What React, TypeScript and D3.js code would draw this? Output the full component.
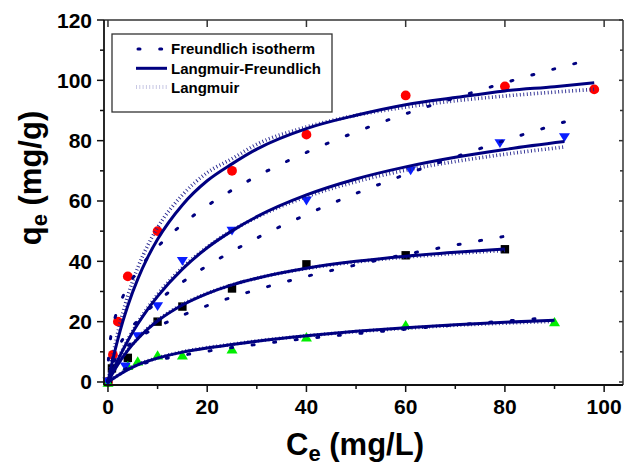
import React from "react";
import * as d3 from "d3";

// Measured adsorption data, four adsorbent series
const RED_CE = [0, 1, 2, 4, 10, 25, 40, 60, 80, 98];
const RED_QE = [0, 9, 20, 35, 50, 70, 82, 95, 98, 97];
const BLUE_CE = [0, 3.5, 6, 10, 15, 25, 40, 61, 79, 92];
const BLUE_QE = [0, 5, 15, 25, 40, 50, 60, 70, 79, 81];
const BLACK_CE = [0, 0.8, 4, 10, 15, 25, 40, 60, 80];
const BLACK_QE = [0, 4.5, 8, 20, 25, 31, 39, 42, 44];
const GREEN_CE = [0, 4, 6, 10, 15, 25, 40, 60, 90];
const GREEN_QE = [0, 5.5, 7, 9, 9, 11, 15, 19, 20];

// Fitted isotherm curves, sampled along Ce
const RED_FIT_CE = [0, 0.1, 0.25, 0.5, 1, 2, 3, 4, 6, 8, 10, 15, 20, 25, 30, 40, 50, 60, 70, 80, 90, 98];
const RED_FREUNDLICH = [0, 7.7, 11, 14.3, 18.6, 24.2, 28.3, 31.6, 36.9, 41.2, 44.8, 52.3, 58.4, 63.6, 68.2, 76.1, 82.9, 88.9, 94.2, 99.2, 103.8, 107.2];
const RED_LF = [0, 0.8, 2, 3.9, 7.6, 14.2, 20.1, 25.3, 34.1, 41.3, 47.3, 58.7, 66.7, 72.3, 77.2, 84, 88.4, 91.9, 94.3, 96.5, 97.9, 99.2];
const RED_LANGMUIR = [0, 1, 2.4, 4.65, 8.9, 16.5, 23, 28.6, 37.9, 45.2, 51.2, 62, 69.4, 74, 78.8, 84.5, 88.4, 91.1, 93.2, 94.8, 96.1, 97];

const BLUE_FIT_CE = [0, 0.1, 0.25, 0.5, 1, 2, 4, 6, 8, 10, 15, 20, 25, 30, 40, 50, 60, 70, 80, 92];
const BLUE_FREUNDLICH = [0, 2.35, 3.81, 5.5, 7.92, 11.4, 16.5, 20.4, 23.7, 26.7, 33.1, 38.5, 43.3, 47.7, 55.5, 62.5, 68.8, 74.6, 80.1, 86.2];
const BLUE_LF = [0, 0.39, 0.98, 1.93, 3.8, 7.3, 13.7, 19.2, 24.1, 28.4, 37.4, 44.5, 50.1, 54.8, 62, 67.3, 71.3, 74.5, 77.1, 79.7];
const BLUE_LANGMUIR = [0, 0.41, 1.03, 2.04, 3.95, 7.6, 14.1, 19.7, 24.6, 29, 37.9, 44.7, 50.2, 54.6, 61.4, 66.4, 70.2, 73.1, 75.5, 77.9];

const BLACK_FIT_CE = [0, 0.1, 0.25, 0.5, 1, 2, 4, 6, 8, 10, 15, 20, 25, 30, 40, 50, 60, 70, 80];
const BLACK_FREUNDLICH = [0, 2.14, 3.29, 4.54, 6.27, 8.66, 11.96, 14.5, 16.5, 18.3, 22.1, 25.3, 28.1, 30.6, 35, 38.8, 42.3, 45.4, 48.3];
const BLACK_LF = [0, 0.33, 0.81, 1.59, 3.08, 5.83, 10.5, 14.3, 17.5, 20.2, 25.5, 29.3, 32.2, 34.4, 37.7, 40, 41.7, 43, 44.1];
const BLACK_LANGMUIR = [0, 0.34, 0.84, 1.64, 3.17, 6, 10.7, 14.5, 17.8, 20.5, 25.7, 29.4, 32.2, 34.4, 37.6, 39.8, 41.4, 42.6, 43.6];

const GREEN_FIT_CE = [0, 0.1, 0.25, 0.5, 1, 2, 4, 6, 8, 10, 15, 20, 25, 30, 40, 50, 60, 70, 80, 90];
const GREEN_FREUNDLICH = [0, 0.74, 1.17, 1.65, 2.32, 3.27, 4.6, 5.62, 6.48, 7.24, 8.84, 10.2, 11.4, 12.45, 14.4, 16, 17.5, 18.9, 20.2, 21.4];
const GREEN_LF = [0, 0.11, 0.28, 0.55, 1.1, 2.15, 4.1, 5.7, 6.9, 7.9, 9.9, 11.3, 12.4, 13.5, 15.3, 16.8, 18, 19, 19.8, 20.5];
const GREEN_LANGMUIR = [0, 0.11, 0.28, 0.55, 1.1, 2.2, 4.2, 5.8, 7, 8, 10, 11.4, 12.5, 13.6, 15.3, 16.7, 17.8, 18.8, 19.5, 20.1];

const X_TICKS = [0, 20, 40, 60, 80, 100];
const X_MINOR = [10, 30, 50, 70, 90];
const Y_TICKS = [0, 20, 40, 60, 80, 100, 120];
const Y_MINOR = [10, 30, 50, 70, 90, 110];
const LEGEND_LABELS = ["Freundlich isotherm", "Langmuir-Freundlich", "Langmuir"];

const W = 625;
const H = 465;
const LEFT = 104;
const RIGHT = 623;
const TOP = 20;
const BOTTOM = 385;
const NAVY = "#000080";
const FONT = "'Liberation Sans', Arial, Helvetica, sans-serif";

const x = d3.scaleLinear().domain([-0.8, 103.8]).range([LEFT, RIGHT]);
const y = d3.scaleLinear().domain([-1, 120]).range([BOTTOM, TOP]);

const lineGen = d3
  .line<[number, number]>()
  .x((d) => x(d[0]))
  .y((d) => y(d[1]))
  .curve(d3.curveMonotoneX);

const pairs = (cs: number[], qs: number[]) => cs.map((c, i) => [c, qs[i]] as [number, number]);

const fits = [
  { ce: RED_FIT_CE, fr: RED_FREUNDLICH, lf: RED_LF, la: RED_LANGMUIR },
  { ce: BLUE_FIT_CE, fr: BLUE_FREUNDLICH, lf: BLUE_LF, la: BLUE_LANGMUIR },
  { ce: BLACK_FIT_CE, fr: BLACK_FREUNDLICH, lf: BLACK_LF, la: BLACK_LANGMUIR },
  { ce: GREEN_FIT_CE, fr: GREEN_FREUNDLICH, lf: GREEN_LF, la: GREEN_LANGMUIR },
];

const LANGMUIR_STYLE = { stroke: "#24248e", strokeWidth: 3.6, strokeDasharray: "0.9 2.6", fill: "none" };
const FREUNDLICH_STYLE = {
  stroke: NAVY,
  strokeWidth: 3,
  strokeDasharray: "2 19.7",
  strokeLinecap: "round" as const,
  fill: "none",
};
const LF_STYLE = { stroke: NAVY, strokeWidth: 3, fill: "none" };

function Circle({ cx, cy }: { cx: number; cy: number }) {
  return <circle cx={cx} cy={cy} r={4.9} fill="#ff0000" />;
}
function Square({ cx, cy }: { cx: number; cy: number }) {
  return <rect x={cx - 4.2} y={cy - 4.2} width={8.4} height={8.4} fill="#000000" />;
}
function TriDown({ cx, cy }: { cx: number; cy: number }) {
  const w = 5.5;
  const h = 4.4;
  return <path d={`M${cx - w},${cy - h}L${cx + w},${cy - h}L${cx},${cy + h}Z`} fill="#0a1eff" />;
}
function TriUp({ cx, cy }: { cx: number; cy: number }) {
  const w = 5.5;
  const h = 4.7;
  return <path d={`M${cx - w},${cy + h}L${cx + w},${cy + h}L${cx},${cy - h}Z`} fill="#00ee00" />;
}

export default function App() {
  return (
    <svg
      width={W}
      height={H}
      viewBox={`0 0 ${W} ${H}`}
      style={{ position: "absolute", left: 0, top: 0, background: "#ffffff" }}
      fontFamily={FONT}
    >
      <rect x={0} y={0} width={W} height={H} fill="#ffffff" />

      {/* data markers */}
      <g>
        {RED_CE.map((c, i) => (
          <Circle key={`r${i}`} cx={x(c)} cy={y(RED_QE[i])} />
        ))}
        {BLACK_CE.map((c, i) => (
          <Square key={`k${i}`} cx={x(c)} cy={y(BLACK_QE[i])} />
        ))}
        {GREEN_CE.map((c, i) => (
          <TriUp key={`g${i}`} cx={x(c)} cy={y(GREEN_QE[i])} />
        ))}
        {BLUE_CE.map((c, i) => (
          <TriDown key={`b${i}`} cx={x(c)} cy={y(BLUE_QE[i])} />
        ))}
      </g>

      {/* isotherm fits */}
      <g>
        {fits.map((f, i) => (
          <path key={`la${i}`} d={lineGen(pairs(f.ce, f.la)) || ""} {...LANGMUIR_STYLE} />
        ))}
        {fits.map((f, i) => (
          <path key={`lf${i}`} d={lineGen(pairs(f.ce, f.lf)) || ""} {...LF_STYLE} />
        ))}
        {fits.map((f, i) => (
          <path key={`fr${i}`} d={lineGen(pairs(f.ce, f.fr)) || ""} {...FREUNDLICH_STYLE} />
        ))}
      </g>

      {/* frame */}
      <line x1={LEFT} x2={RIGHT} y1={TOP} y2={TOP} stroke="#333" strokeWidth={1.5} />
      <line x1={RIGHT} x2={RIGHT} y1={TOP} y2={BOTTOM} stroke="#333" strokeWidth={1.5} />
      <line x1={LEFT} x2={RIGHT} y1={BOTTOM} y2={BOTTOM} stroke="#111" strokeWidth={1.8} />
      <line x1={LEFT} x2={LEFT} y1={TOP} y2={BOTTOM} stroke="#111" strokeWidth={1.8} />

      {/* x axis ticks */}
      {X_TICKS.map((t) => (
        <g key={`xt${t}`}>
          <line x1={x(t)} x2={x(t)} y1={BOTTOM} y2={BOTTOM + 7} stroke="#111" strokeWidth={1.5} />
          <line x1={x(t)} x2={x(t)} y1={TOP} y2={TOP + 7} stroke="#333" strokeWidth={1.5} />
          <text x={x(t)} y={414} textAnchor="middle" fontSize={21} fontWeight="bold" fill="#000">
            {t}
          </text>
        </g>
      ))}
      {X_MINOR.map((t) => (
        <line key={`xm${t}`} x1={x(t)} x2={x(t)} y1={BOTTOM} y2={BOTTOM + 4} stroke="#111" strokeWidth={1.5} />
      ))}

      {/* y axis ticks */}
      {Y_TICKS.map((t) => (
        <g key={`yt${t}`}>
          <line x1={LEFT - 7} x2={LEFT} y1={y(t)} y2={y(t)} stroke="#111" strokeWidth={1.5} />
          <line x1={RIGHT - 4} x2={RIGHT} y1={y(t)} y2={y(t)} stroke="#333" strokeWidth={1.5} />
          <text x={92} y={y(t) + 7.5} textAnchor="end" fontSize={21} fontWeight="bold" fill="#000">
            {t}
          </text>
        </g>
      ))}
      {Y_MINOR.map((t) => (
        <g key={`ym${t}`}>
          <line x1={LEFT - 4} x2={LEFT} y1={y(t)} y2={y(t)} stroke="#111" strokeWidth={1.5} />
          <line x1={RIGHT - 3} x2={RIGHT} y1={y(t)} y2={y(t)} stroke="#333" strokeWidth={1.5} />
        </g>
      ))}

      {/* axis titles */}
      <text x={355} y={455} textAnchor="middle" fontSize={31} fontWeight="bold" fill="#000">
        C<tspan fontSize={22} dy={6}>e</tspan>
        <tspan dy={-6}> (mg/L)</tspan>
      </text>
      <text
        transform="translate(41,178) rotate(-90)"
        textAnchor="middle"
        fontSize={31}
        fontWeight="bold"
        fill="#000"
      >
        q<tspan fontSize={22} dy={6}>e</tspan>
        <tspan dy={-6}> (mg/g)</tspan>
      </text>

      {/* legend */}
      <g>
        <rect x={112} y={34} width={220} height={78} fill="#ffffff" stroke="#333" strokeWidth={1.3} />
        <line x1={138} x2={167} y1={49} y2={49} {...FREUNDLICH_STYLE} />
        <line x1={136} x2={167} y1={68.3} y2={68.3} {...LF_STYLE} />
        <line x1={136} x2={167} y1={87} y2={87} stroke="#c8c8e4" strokeWidth={4} strokeDasharray="1 2.3" />
        {LEGEND_LABELS.map((label, i) => (
          <text key={label} x={171} y={54.3 + i * 19.2} fontSize={15} fontWeight="bold" fill="#000">
            {label}
          </text>
        ))}
      </g>
    </svg>
  );
}
